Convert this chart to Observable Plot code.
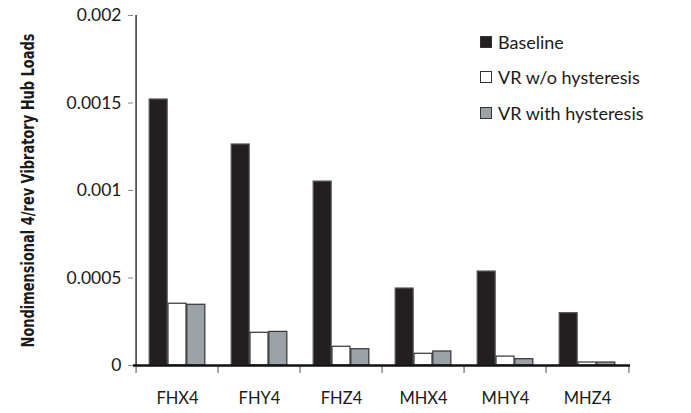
<!DOCTYPE html>
<html><head><meta charset="utf-8">
<script src="https://cdn.jsdelivr.net/npm/d3@7"></script>
<script src="https://cdn.jsdelivr.net/npm/@observablehq/plot@0.6"></script>
<style>
body{margin:0;background:#fff;}
#wrap{position:relative;width:691px;height:413px;font-family:Lato,"Open Sans",sans-serif;}
#legend{position:absolute;left:480px;top:24px;font-size:18px;color:#1a1a1a;}
#legend .row{display:flex;align-items:center;height:35.5px;}
#legend .sw{width:10px;height:10px;border:1px solid #333;margin-right:6px;box-sizing:content-box;}
</style></head><body><div id="wrap"></div>
<script>
const categories = ["FHX4","FHY4","FHZ4","MHX4","MHY4","MHZ4"];
const seriesNames = ["Baseline","VR w/o hysteresis","VR with hysteresis"];
const baseline = [0.00152,0.001263,0.001051,0.000440,0.000537,0.000299];
const vrNoHyst = [0.000353,0.000187,0.000107,0.000067,0.000051,0.000017];
const vrHyst   = [0.000347,0.000192,0.000093,0.000080,0.000036,0.000017];
const yTicks = [0,0.0005,0.001,0.0015,0.002];
const yTickLabels = ["0","0.0005","0.001","0.0015","0.002"];
const yTitle = "Nondimensional 4/rev Vibratory Hub Loads";
const seriesColors = ["#231f20","#ffffff","#9ca2a8"];

const seriesValues = [baseline, vrNoHyst, vrHyst];
const W = 691, H = 413, mL = 133, mR = 61, mT = 15, mB = 48;
const bw = (W - mL - mR) / categories.length;
const pad = 0.7, step = bw / (seriesNames.length + 2 * pad);

const barMarks = seriesValues.map((vals, i) => Plot.barY(
  categories.map((c, j) => ({cat: c, value: vals[j]})),
  {x: "cat", y: "value", fill: seriesColors[i], stroke: i === 0 ? "#555" : "#333", strokeWidth: 1.2,
   insetLeft: pad * step + i * step, insetRight: bw - pad * step - (i + 1) * step}
));

const chart = Plot.plot({
  width: W, height: H,
  marginLeft: mL, marginRight: mR, marginTop: mT, marginBottom: mB,
  style: {fontFamily: "Lato, 'Open Sans', sans-serif", fontSize: "16.5px", color: "#1a1a1a", background: "#fff"},
  x: {type: "band", domain: categories, padding: 0, label: null},
  y: {domain: [0, 0.002], label: null},
  marks: [
    ...barMarks,
    Plot.ruleX([categories[0]], {x: d => d, dx: -bw / 2, y1: 0, y2: 0.002, stroke: "#333", strokeWidth: 1.5}),
    Plot.ruleX(categories, {x: d => d, dx: -bw / 2, y1: 0, y2: -0.000045, stroke: "#888", strokeWidth: 1.5}),
    Plot.ruleX([categories[categories.length - 1]], {x: d => d, dx: bw / 2, y1: 0, y2: -0.000045, stroke: "#888", strokeWidth: 1.5}),
    Plot.ruleY([0], {stroke: "#111", strokeWidth: 2.5}),
    Plot.axisY({ticks: yTicks, tickFormat: (d, i) => yTickLabels[i], tickSize: 5, tickPadding: 7, stroke: "#888", fontSize: 17.5, label: null}),
    Plot.axisX({tickSize: 0, tickPadding: 27, label: null}),
    Plot.text([yTitle], {frameAnchor: "left", textAnchor: "middle", dx: -105, rotate: -90, fontWeight: "bold",
      fontSize: 17, fontFamily: "'Liberation Sans Narrow','DejaVu Sans Condensed',sans-serif", fill: "#1a1a1a"})
  ]
});
const wrap = document.getElementById("wrap");
wrap.appendChild(chart);
d3.select(chart).selectAll("text").filter(function(){ return this.textContent === yTitle; })
  .each(function(){
    const len = this.getComputedTextLength();
    const t = this.getAttribute("transform") || "";
    if (len > 0) this.setAttribute("transform", t + ` scale(${314 / len},1)`);
  });

const legend = document.createElement("div");
legend.id = "legend";
seriesNames.forEach((s, i) => {
  const row = document.createElement("div"); row.className = "row";
  const sw = document.createElement("span"); sw.className = "sw"; sw.style.background = seriesColors[i];
  const tx = document.createElement("span"); tx.textContent = s;
  row.appendChild(sw); row.appendChild(tx); legend.appendChild(row);
});
wrap.appendChild(legend);
</script></body></html>
